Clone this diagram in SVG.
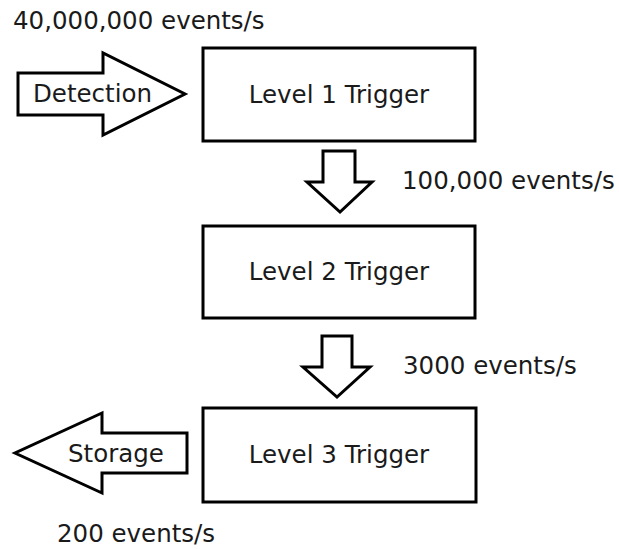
<svg xmlns="http://www.w3.org/2000/svg" width="619" height="549" viewBox="0 0 619 549">
<style>
.box{fill:#fff;stroke:#000;stroke-width:3}
.arr{fill:#fff;stroke:#000;stroke-width:3;stroke-linejoin:miter}
text{font-family:"DejaVu Sans",Verdana,sans-serif;font-size:24.5px;fill:#1a1a1a}
.c{text-anchor:middle}
</style>
<rect width="619" height="549" fill="#fff"/>
<g id="connectors">
<g id="detection-arrow">
<polygon class="arr" points="18,73 103,73 103,53 185,94 103,135 103,115 18,115"/>
<text x="33" y="102">Detection</text>
</g>
<g id="arrow-1-2">
<polygon class="arr" points="323,151 355,151 355,182 372,182 340,212 307,182 323,182"/>
</g>
<g id="arrow-2-3">
<polygon class="arr" points="322,336 352,336 352,367 370,367 337,397 303,367 322,367"/>
</g>
<g id="storage-arrow">
<polygon class="arr" points="187,433 102,433 102,413 15,453 102,493 102,473 187,473"/>
<text x="68" y="462">Storage</text>
</g>
</g>
<g id="level1">
<rect class="box" x="203" y="48" width="272" height="93"/>
<text class="c" x="339" y="103">Level 1 Trigger</text>
</g>
<g id="level2">
<rect class="box" x="203" y="226" width="272" height="92"/>
<text class="c" x="339" y="280">Level 2 Trigger</text>
</g>
<g id="level3">
<rect class="box" x="203" y="408" width="273" height="94"/>
<text class="c" x="339" y="463">Level 3 Trigger</text>
</g>
<g id="labels">
<text x="13" y="29">40,000,000 events/s</text>
<text x="402" y="189">100,000 events/s</text>
<text x="403" y="374">3000 events/s</text>
<text x="57" y="542">200 events/s</text>
</g>
</svg>
